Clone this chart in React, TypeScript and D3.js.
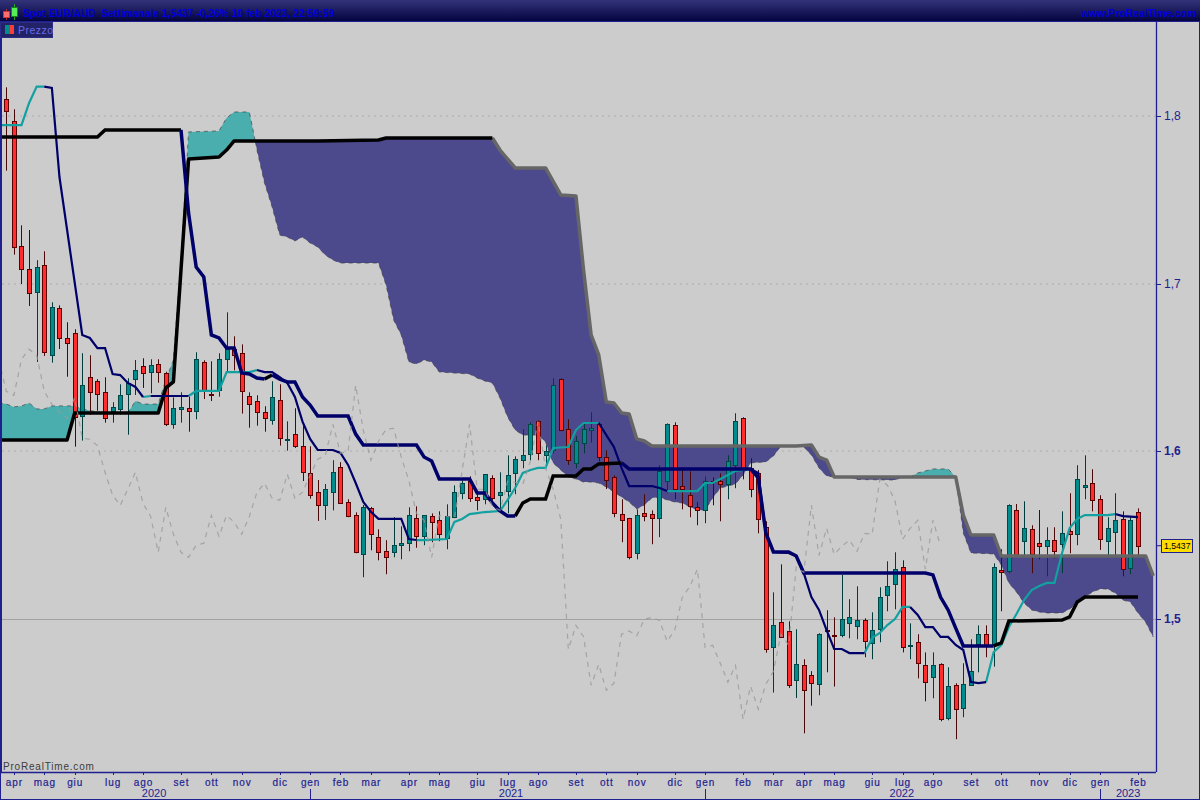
import React from "react";
import * as d3 from "d3";

type P = [number, number];

const highs = [
1.8171,1.8040,1.7348,1.7320,1.7140,1.7193,1.6889,1.6871,1.6770,1.6728,
1.6585,1.6573,1.6431,1.6442,1.6293,1.6400,1.6436,1.6545,1.6555,1.6549,
1.6549,1.6475,1.6322,1.6352,1.6326,1.6591,1.6543,1.6537,1.6585,1.6829,
1.6686,1.6638,1.6352,1.6334,1.6269,1.6418,1.6400,1.6179,1.6257,1.6151,
1.6030,1.5829,1.5805,1.5947,1.5935,1.5714,1.5636,1.5680,1.5668,1.5535,
1.5470,1.5607,1.5553,1.5666,1.5672,1.5618,1.5630,1.5642,1.5684,1.5797,
1.5827,1.5851,1.5750,1.5863,1.5857,1.5875,1.5976,1.5970,1.6133,1.6173,
1.6185,1.6036,1.6436,1.6436,1.6191,1.6092,1.6169,1.6233,1.6173,1.6006,
1.5857,1.5714,1.5603,1.5654,1.5744,1.5648,1.5917,1.6167,1.6173,1.5905,
1.5881,1.5698,1.5851,1.5845,1.5869,1.5976,1.6227,1.6203,1.5959,1.5889,
1.5583,1.5159,1.5326,1.4986,1.4939,1.4760,1.4689,1.4915,1.5052,1.5010,
1.5264,1.5118,1.5195,1.5004,1.5040,1.5189,1.5344,1.5398,1.5350,1.4974,
1.4909,1.4801,1.4801,1.4736,1.4712,1.4617,1.4736,1.4879,1.4962,1.4962,
1.5332,1.5416,1.5684,1.5686,1.5702,1.5559,1.5650,1.5547,1.5547,1.5642,
1.5750,1.5917,1.5976,1.5893,1.5738,1.5607,1.5750,1.5642,1.5607,1.5660];

const lows = [
1.7674,1.7173,1.6998,1.6867,1.6533,1.6569,1.6529,1.6610,1.6445,1.6028,
1.6064,1.6217,1.6242,1.6171,1.6171,1.6219,1.6099,1.6336,1.6378,1.6346,
1.6409,1.6151,1.6135,1.6171,1.6117,1.6191,1.6312,1.6300,1.6326,1.6477,
1.6483,1.6225,1.6141,1.6153,1.6117,1.6159,1.6034,1.6004,1.6020,1.5823,
1.5718,1.5585,1.5591,1.5648,1.5690,1.5607,1.5392,1.5249,1.5410,1.5350,
1.5267,1.5368,1.5356,1.5404,1.5425,1.5440,1.5458,1.5464,1.5416,1.5601,
1.5714,1.5698,1.5648,1.5684,1.5706,1.5642,1.5630,1.5744,1.5899,1.5947,
1.5947,1.5911,1.5988,1.6120,1.5919,1.5899,1.5988,1.6052,1.5941,1.5775,
1.5607,1.5458,1.5356,1.5356,1.5583,1.5446,1.5488,1.5750,1.5714,1.5654,
1.5607,1.5559,1.5571,1.5678,1.5583,1.5714,1.5780,1.5833,1.5726,1.5511,
1.4799,1.4561,1.4891,1.4589,1.4529,1.4318,1.4483,1.4545,1.4682,1.4597,
1.4891,1.4885,1.4879,1.4772,1.4760,1.4861,1.5046,1.5058,1.4801,1.4760,
1.4646,1.4509,1.4527,1.4390,1.4396,1.4283,1.4414,1.4605,1.4682,1.4772,
1.4716,1.5046,1.5273,1.5376,1.5380,1.5273,1.5356,1.5255,1.5362,1.5273,
1.5392,1.5440,1.5714,1.5642,1.5412,1.5380,1.5380,1.5255,1.5267,1.5380];

const opens = [
1.8100,1.7972,1.7223,1.7086,1.6949,1.7110,1.6573,1.6857,1.6674,1.6704,
1.6209,1.6442,1.6418,1.6352,1.6239,1.6251,1.6340,1.6430,1.6507,1.6471,
1.6519,1.6465,1.6161,1.6251,1.6257,1.6239,1.6531,1.6342,1.6364,1.6549,
1.6609,1.6585,1.6328,1.6299,1.6233,1.6185,1.6304,1.6066,1.6102,1.6034,
1.5869,1.5756,1.5678,1.5756,1.5905,1.5696,1.5618,1.5386,1.5660,1.5487,
1.5404,1.5398,1.5440,1.5452,1.5600,1.5493,1.5612,1.5589,1.5481,1.5606,
1.5750,1.5821,1.5726,1.5714,1.5839,1.5738,1.5762,1.5869,1.5947,1.5982,
1.6179,1.5977,1.6006,1.6430,1.6132,1.5929,1.6052,1.6126,1.6161,1.5965,
1.5845,1.5625,1.5601,1.5392,1.5631,1.5625,1.5601,1.5821,1.6155,1.5792,
1.5738,1.5666,1.5648,1.5821,1.5821,1.5803,1.5917,1.6197,1.5899,1.5869,
1.5547,1.4835,1.4980,1.4927,1.4635,1.4724,1.4665,1.4611,1.4933,1.4905,
1.4903,1.4974,1.4957,1.4992,1.4855,1.4939,1.5142,1.5207,1.5309,1.4841,
1.4861,1.4724,1.4653,1.4730,1.4408,1.4605,1.4468,1.4605,1.4849,1.4909,
1.4843,1.5291,1.5285,1.5648,1.5464,1.5535,1.5452,1.5434,1.5470,1.5446,
1.5523,1.5505,1.5786,1.5809,1.5714,1.5464,1.5517,1.5595,1.5303,1.5637];

const closes = [
1.8032,1.7217,1.7086,1.6943,1.7098,1.6591,1.6863,1.6674,1.6644,1.6203,
1.6394,1.6352,1.6340,1.6197,1.6263,1.6334,1.6406,1.6483,1.6465,1.6513,
1.6471,1.6161,1.6257,1.6263,1.6239,1.6549,1.6358,1.6334,1.6549,1.6609,
1.6573,1.6358,1.6281,1.6233,1.6197,1.6322,1.6078,1.6072,1.6034,1.5875,
1.5738,1.5678,1.5774,1.5875,1.5690,1.5613,1.5398,1.5666,1.5505,1.5398,
1.5368,1.5440,1.5452,1.5618,1.5493,1.5618,1.5577,1.5505,1.5612,1.5756,
1.5809,1.5720,1.5708,1.5863,1.5720,1.5756,1.5857,1.5953,1.5976,1.6161,
1.5988,1.6000,1.6394,1.6126,1.5947,1.6060,1.6131,1.6137,1.5965,1.5827,
1.5630,1.5589,1.5368,1.5618,1.5613,1.5601,1.5881,1.6161,1.5774,1.5774,
1.5672,1.5648,1.5821,1.5815,1.5803,1.5941,1.6179,1.5899,1.5774,1.5595,
1.4819,1.4962,1.4894,1.4605,1.4730,1.4575,1.4617,1.4909,1.4929,1.4900,
1.4998,1.5010,1.4992,1.4867,1.4933,1.5129,1.5195,1.5297,1.4831,1.4843,
1.4736,1.4623,1.4724,1.4402,1.4599,1.4462,1.4611,1.4688,1.4909,1.4843,
1.5309,1.5279,1.5679,1.5380,1.5541,1.5386,1.5434,1.5470,1.5404,1.5511,
1.5505,1.5833,1.5798,1.5708,1.5475,1.5541,1.5589,1.5297,1.5589,1.5437];

const tenkanAbove: P[][] = [
  [[-1,1.7946],[2,1.7946],[3,1.8078],[4,1.8175],[5,1.8175]],
  [[18,1.6324],[19,1.6330]],
  [[24,1.6330],[25,1.6360],[28,1.6360],[29,1.6473],[32,1.6473],[33,1.6485]],
  [[54,1.5471],[55,1.5471],[58,1.5477],[59,1.5579],[60,1.5597],[61,1.5626],[62,1.5632],[63,1.5638],[65,1.5644],[66,1.5710],[67,1.5781],[68,1.5871],[69,1.5889],[70,1.5901],[71,1.5901],[72,1.6020],[74,1.6026],[75,1.6127],[76,1.6169],[78,1.6169]],
  [[87,1.5763],[91,1.5763],[92,1.5811],[93,1.5811],[94,1.5835],[95,1.5859],[96,1.5883],[97,1.5889],[98,1.5895]],
  [[113,1.4797],[114,1.4887],[115,1.4917],[116,1.4964],[117,1.5000],[118,1.5072],[119,1.5072]],
  [[129,1.4624],[130,1.4803],[131,1.4845],[132,1.4952],[133,1.5030],[134,1.5113],[135,1.5173],[136,1.5197],[137,1.5215],[138,1.5215],[139,1.5394],[140,1.5543],[141,1.5597],[142,1.5620],[145,1.5620],[146,1.5626]],
];

const tenkanBelow: P[][] = [
  [[5,1.8175],[6,1.8167],[7,1.7636],[10,1.6694],[11,1.6676],[12,1.6616],[13,1.6616],[14,1.6461],[15,1.6455],[16,1.6408],[17,1.6384],[18,1.6324]],
  [[19,1.6330],[24,1.6330]],
  [[33,1.6485],[34,1.6473],[35,1.6473],[36,1.6443],[37,1.6408],[38,1.6324],[39,1.6177],[40,1.6074],[41,1.6008],[43,1.6008],[44,1.5990],[45,1.5919],[46,1.5811],[47,1.5698],[48,1.5640],[49,1.5597],[52,1.5597],[53,1.5477],[54,1.5471]],
  [[78,1.6169],[79,1.6097],[80,1.6026],[81,1.5901],[82,1.5793],[85,1.5793],[86,1.5781],[87,1.5763]],
  [[98,1.5895],[99,1.5871],[100,1.5513],[101,1.5400],[103,1.5394],[104,1.5376],[105,1.5274],[106,1.5131],[107,1.5054],[108,1.4934],[109,1.4821],[110,1.4821],[111,1.4797],[113,1.4797]],
  [[119,1.5072],[120,1.5024],[121,1.4952],[122,1.4952],[123,1.4893],[124,1.4893],[125,1.4845],[126,1.4815],[127,1.4624],[128,1.4618],[129,1.4624]],
  [[146,1.5626],[147,1.5614],[149,1.5608]],
];

const kijunSupport: P[][] = [
  [[-1,1.7875],[12,1.7875],[13,1.7917],[23,1.7917]],
  [[34,1.6431],[35,1.6455]],
  [[67,1.5614],[68,1.5692],[69,1.5716],[71,1.5716],[72,1.5853],[75,1.5853],[76,1.5895],[77,1.5895],[78,1.5925],[81,1.5931]],
  [[130,1.4839],[131,1.4857],[132,1.4988],[139,1.4994],[140,1.5012],[141,1.5101],[142,1.5131],[149,1.5131]],
];

const kijunResistance: P[][] = [
  [[23,1.7917],[24,1.7421],[25,1.7099],[26,1.7040],[27,1.6694],[28,1.6676],[29,1.6616],[30,1.6616],[31,1.6467],[32,1.6461],[33,1.6437],[34,1.6431]],
  [[35,1.6455],[36,1.6431],[37,1.6414],[38,1.6414],[39,1.6324],[40,1.6276],[41,1.6211],[45,1.6211],[46,1.6103],[47,1.6038],[54,1.6038],[55,1.5966],[56,1.5942],[57,1.5835],[61,1.5835],[62,1.5752],[63,1.5752],[64,1.5692],[65,1.5644],[66,1.5614],[67,1.5614]],
  [[81,1.5931],[82,1.5895],[98,1.5895],[99,1.5841],[100,1.5513],[101,1.5400],[103,1.5400],[104,1.5376],[105,1.5274],[121,1.5274],[122,1.5263],[123,1.5131],[124,1.5054],[125,1.4946],[126,1.4839],[130,1.4839]],
];

const spanBBlack: P[] = [
  [-1,1.6068],[8,1.6068],[9,1.6229],[20,1.6229],[21,1.6378],[22,1.6414],[23,1.7082],[24,1.7744],[28,1.7755],[29,1.7797],[30,1.7851],[41,1.7851],[49,1.7857],[50,1.7869],[64,1.7869],
];
const spanBGray: P[] = [
  [64,1.7869],[65,1.7797],[67,1.7690],[71,1.7690],[73,1.7529],[75,1.7523],[76,1.7082],[77,1.6694],[78,1.6575],[79,1.6294],[80,1.6288],[81,1.6229],[82,1.6223],[83,1.6074],[84,1.6062],[85,1.6032],[104,1.6032],[106,1.6038],[107,1.5966],[108,1.5948],[109,1.5847],[125,1.5847],[126,1.5620],[127,1.5501],[130,1.5501],[131,1.5376],[150,1.5376],[151,1.5257],
];

const spanABull: P[][] = [
  [[-1,1.6288],[0,1.6282],[1,1.6265],[2,1.6271],[3,1.6288],[4,1.6253],[5,1.6253],[6,1.6271],[9,1.6271],[10,1.6253],[12,1.6235],[13,1.6229]],
  [[16,1.6229],[17,1.6300],[18,1.6282],[20,1.6282],[21,1.6426],[22,1.6545],[23,1.7141],[24,1.7905],[28,1.7911],[29,1.7988],[30,1.8024],[32,1.8024],[32.8,1.7845]],
  [[119,1.5847],[120,1.5871],[122,1.5895],[124,1.5895],[125,1.5847]],
];
const spanABear: P[][] = [
  [[32.8,1.7845],[33,1.7797],[34,1.7600],[35,1.7457],[36,1.7290],[37,1.7278],[38,1.7255],[39,1.7278],[40,1.7243],[41,1.7219],[42,1.7171],[43,1.7141],[44,1.7123],[49,1.7123],[50,1.6992],[51,1.6783],[52,1.6694],[53,1.6533],[54,1.6521],[55,1.6545],[56,1.6533],[57,1.6473],[61,1.6461],[62,1.6437],[63,1.6420],[64,1.6408],[65,1.6318],[66,1.6205],[67,1.6127],[68,1.6097],[70,1.6097],[71,1.6056],[72,1.5931],[73,1.5889],[74,1.5847],[75,1.5835],[76,1.5817],[77,1.5817],[78,1.5811],[79,1.5787],[80,1.5758],[81,1.5728],[82,1.5698],[83,1.5656],[84,1.5680],[85,1.5722],[86,1.5728],[87,1.5710],[88,1.5698],[89,1.5692],[90,1.5668],[91,1.5650],[92,1.5650],[93,1.5722],[94,1.5781],[95,1.5793],[96,1.5805],[97,1.5859],[98,1.5931],[100,1.5937],[101,1.5972],[102,1.6032]],
  [[105,1.6026],[106,1.5978],[107,1.5901],[108,1.5853],[109,1.5847]],
  [[111,1.5847],[112,1.5832],[117,1.5829],[118,1.5847]],
  [[125,1.5847],[126,1.5513],[127,1.5394],[130,1.5388],[131,1.5322],[132,1.5215],[133,1.5161],[134,1.5096],[135,1.5054],[136,1.5042],[137,1.5036],[139,1.5036],[140,1.5060],[141,1.5096],[142,1.5131],[143,1.5161],[144,1.5179],[145,1.5179],[146,1.5155],[147,1.5113],[148,1.5101],[149,1.5036],[150,1.4982],[151,1.4893]],
];

const monthLabels = ["apr","mag","giu","lug","ago","set","ott","nov","dic","gen","feb","mar","apr","mag","giu","lug","ago","set","ott","nov","dic","gen","feb","mar","apr","mag","giu","lug","ago","set","ott","nov","dic","gen","feb"];
const monthBars = [1,5,9,14,18,23,27,31,36,40,44,48,53,57,62,66,70,75,79,83,88,92,97,101,105,109,114,118,122,127,131,136,140,144,149];
const yearLabels = ["2020","2021","2022","2023"];
const yearCenters = [19.45,66.45,117.9,147.7];
const yearStarts = [40,92,144];
const priceTicks = [1.8,1.7,1.6,1.5];
const lastClose = 1.5437;
const titleText = "Spot EUR/AUD\u00a0\u00a0Settimanale 1,5437 -0,26% 10 feb 2023, 22:59:59";

const FONT = "'Liberation Sans', Arial, sans-serif";
const BLUE = "#1f1f90";
const NAVY = "#00006a";
const TEAL = "#12a0a0";

const x = d3.scaleLinear().domain([0, 149]).range([6.3, 1138]);
const y = d3.scaleLinear().domain([1.8, 1.5]).range([116, 619]);
const lineGen = d3.line<P>().x((d) => x(d[0])).y((d) => y(d[1]));

const spanBAll: P[] = [...spanBBlack, ...spanBGray.slice(1)];
const spanBAt = d3.scaleLinear().domain(spanBAll.map((d) => d[0])).range(spanBAll.map((d) => d[1]));

function cloudPath(a: P[]) {
  const i0 = a[0][0];
  const i1 = a[a.length - 1][0];
  const inner = spanBAll.filter((d) => d[0] > i0 && d[0] < i1);
  const lower: P[] = [[i0, spanBAt(i0)], ...inner, [i1, spanBAt(i1)]];
  return lineGen([...a, ...lower.reverse()]) + "Z";
}

const chikou: P[] = closes
  .map((c, i) => [i - 26, c] as P)
  .filter((d) => d[0] >= -1 && d[0] <= 123);

export default function App() {
  return (
    <svg width={1200} height={800} viewBox="0 0 1200 800" style={{ position: "absolute", left: 0, top: 0, display: "block" }} fontFamily={FONT}>
      <defs>
        <linearGradient id="hdr" x1="0" y1="0" x2="0" y2="1">
          <stop offset="0" stopColor="#33337a" />
          <stop offset="1" stopColor="#040440" />
        </linearGradient>
        <clipPath id="plot"><rect x={2} y={22} width={1154} height={750} /></clipPath>
      </defs>
      <rect x={0} y={0} width={1200} height={800} fill="#cccccc" />

      {priceTicks.map((t) =>
        t === 1.5 ? (
          <line key={t} x1={2} x2={1156} y1={Math.round(y(t)) + 0.5} y2={Math.round(y(t)) + 0.5} stroke="#a2a2a2" />
        ) : (
          <line key={t} x1={2} x2={1156} y1={Math.round(y(t))} y2={Math.round(y(t))} stroke="#bcbcbc" strokeWidth={2} strokeDasharray="2 4" />
        )
      )}

      <g clipPath="url(#plot)">
        {spanABull.map((a, k) => <path key={k} d={cloudPath(a)} fill="#4aaeae" />)}
        {spanABear.map((a, k) => <path key={k} d={cloudPath(a)} fill="#4c4a8c" />)}
        {[...spanABull, ...spanABear].map((a, k) => (
          <path key={k} d={lineGen(a) || ""} fill="none" stroke="#3c3c3c" strokeWidth={1} strokeDasharray="4 4" opacity={0.65} />
        ))}

        {closes.map((c, i) => {
          const up = c >= opens[i];
          const cx = Math.round(x(i)) + 0.5;
          const top = Math.round(y(Math.max(c, opens[i])));
          const bot = Math.round(y(Math.min(c, opens[i])));
          return (
            <g key={i}>
              <line x1={cx} x2={cx} y1={y(highs[i])} y2={y(lows[i])} stroke={up ? "#003c3c" : "#4a0808"} />
              <rect x={cx - 2} y={top + 0.5} width={4} height={Math.max(bot - top, 1)} fill={up ? "#008c8c" : "#ff2d2d"} stroke={up ? "#004848" : "#5a0000"} />
            </g>
          );
        })}

        <path d={lineGen(spanBGray) || ""} fill="none" stroke="#666666" strokeWidth={3.5} strokeLinejoin="round" />
        <path d={lineGen(spanBBlack) || ""} fill="none" stroke="#000000" strokeWidth={3.5} strokeLinejoin="round" />

        {tenkanAbove.map((s, k) => <path key={k} d={lineGen(s) || ""} fill="none" stroke={TEAL} strokeWidth={2.2} />)}
        {tenkanBelow.map((s, k) => <path key={k} d={lineGen(s) || ""} fill="none" stroke={NAVY} strokeWidth={2.2} />)}
        {kijunSupport.map((s, k) => <path key={k} d={lineGen(s) || ""} fill="none" stroke="#000000" strokeWidth={3.5} />)}
        {kijunResistance.map((s, k) => <path key={k} d={lineGen(s) || ""} fill="none" stroke={NAVY} strokeWidth={3.5} />)}

        <path d={lineGen(chikou) || ""} fill="none" stroke="#9a9a9a" strokeWidth={1.2} strokeDasharray="5 5" opacity={0.8} />
      </g>

      <rect x={0} y={0} width={1200} height={21} fill="url(#hdr)" />
      <rect x={0} y={21} width={1200} height={1} fill="#23237a" />
      <rect x={0.5} y={21.5} width={1199} height={778} fill="none" stroke={BLUE} />
      <rect x={0} y={22} width={2} height={750} fill={BLUE} />

      <line x1={6.5} x2={6.5} y1={9} y2={20} stroke="#aa3333" />
      <rect x={3.5} y={11.5} width={6} height={6} fill="#ff7070" stroke="#cc3333" />
      <line x1={14.5} x2={14.5} y1={4} y2={20} stroke="#22aa22" />
      <rect x={11.5} y={7.5} width={6} height={9} fill="#55ee55" stroke="#118811" />
      <text x={23} y={16.5} fontSize={10} fontWeight={700} fill="#0000dd" textLength={311} lengthAdjust="spacing">{titleText}</text>
      <text x={1081} y={16.5} fontSize={10.5} fontWeight={700} fill="#0000dd" textLength={115} lengthAdjust="spacing">www.ProRealTime.com</text>

      <rect x={0.5} y={22.5} width={52} height={15} fill="#222266" stroke="#2c2c88" />
      <rect x={5} y={25} width={5} height={9} fill="#008c8c" />
      <rect x={10} y={25} width={4} height={9} fill="#ff3c3c" />
      <text x={18} y={34} fontSize={10.5} fill="#6a6ae8" letterSpacing={0.5}>Prezzo</text>

      <line x1={1156.5} x2={1156.5} y1={22} y2={772} stroke={BLUE} strokeWidth={1.3} />
      {priceTicks.map((t) => (
        <g key={t}>
          <line x1={1156} x2={1161} y1={Math.round(y(t)) + 0.5} y2={Math.round(y(t)) + 0.5} stroke={BLUE} />
          <text x={1164} y={y(t) + 4} fontSize={12} fill={BLUE} fontWeight={t <= 1.6 ? 700 : 400}>{d3.format(".1f")(t).replace(".", ",")}</text>
        </g>
      ))}

      <line x1={1156} x2={1162} y1={y(lastClose)} y2={y(lastClose)} stroke={BLUE} />
      <rect x={1161.5} y={Math.round(y(lastClose)) - 6.5} width={31} height={13} fill="#ffdd00" stroke={BLUE} />
      <text x={1164} y={y(lastClose) + 3.5} fontSize={9.5} fill="#000000" textLength={26.5} lengthAdjust="spacingAndGlyphs">{lastClose.toFixed(4).replace(".", ",")}</text>

      <line x1={0} x2={1156} y1={772.5} y2={772.5} stroke={BLUE} strokeWidth={1.3} />
      {monthBars.map((b, k) => (
        <g key={k}>
          <line x1={Math.round(x(b)) + 0.5} x2={Math.round(x(b)) + 0.5} y1={772} y2={775} stroke={BLUE} />
          <text x={x(b) + 0.5} y={786} fontSize={10} fill={BLUE} textAnchor="middle" letterSpacing={0.9} stroke={BLUE} strokeWidth={0.2}>{monthLabels[k]}</text>
        </g>
      ))}
      {yearStarts.map((b) => (
        <line key={b} x1={Math.round(x(b)) + 0.5} x2={Math.round(x(b)) + 0.5} y1={789} y2={799} stroke={BLUE} />
      ))}
      {yearLabels.map((t, k) => (
        <text key={t} x={x(yearCenters[k])} y={797} fontSize={11} fill={BLUE} textAnchor="middle">{t}</text>
      ))}

      <text x={3} y={770} fontSize={10} fill="#3c3c3c" letterSpacing={0.8}>ProRealTime.com</text>
    </svg>
  );
}
